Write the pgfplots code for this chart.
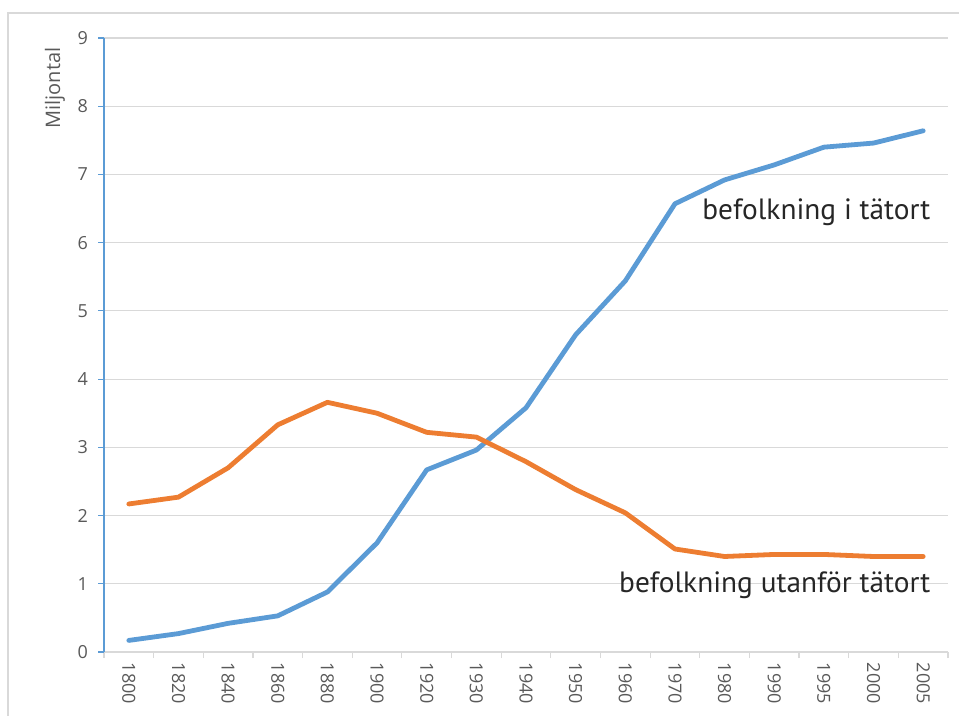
\documentclass[border=0pt]{standalone}
\usepackage{pgfplots}
\pgfplotsset{compat=1.18}
\usepackage{fontspec}
\setmainfont{Open Sans}
\newfontfamily\labelfont{PT Sans}
\definecolor{sblue}{HTML}{5B9BD5}
\definecolor{sorange}{HTML}{ED7D31}
\definecolor{gridc}{HTML}{D9D9D9}
\definecolor{tickc}{HTML}{595959}
\definecolor{txtc}{HTML}{262626}
\begin{document}
\begin{tikzpicture}
\useasboundingbox (0pt,0pt) rectangle (719.25pt,536.25pt);
\draw[gridc, line width=0.9pt] (6pt,-15pt) -- (6pt,526.5pt) -- (730pt,526.5pt);
\node[rotate=90, text=tickc, font=\fontsize{15}{17}\selectfont] at (41.25pt,470.25pt) {Miljontal};
\begin{axis}[
  at={(78pt,47.25pt)}, anchor=south west,
  scale only axis,
  width=633pt, height=460.5pt,
  xmin=-0.5, xmax=16.5, ymin=0, ymax=9,
  axis x line*=bottom, axis y line*=left,
  x axis line style={draw=gridc, line width=0.9pt, -},
  y axis line style={draw=sblue, line width=0.9pt, -},
  xtick={0,...,16},
  xticklabels={1800,1820,1840,1860,1880,1900,1920,1930,1940,1950,1960,1970,1980,1990,1995,2000,2005},
  major x tick style={draw=none},
  minor xtick={-0.5,0.5,...,16.5},
  minor x tick style={draw=gridc, line width=0.9pt},
  minor tick length=4.5pt,
  ytick={0,...,9},
  y tick style={draw=sblue, line width=0.9pt},
  major tick length=4.5pt,
  tick align=outside,
  ymajorgrids, major grid style={draw=gridc, line width=0.9pt},
  xticklabel style={rotate=-90, anchor=west, text=tickc, font=\fontsize{13.5}{15}\selectfont},
  yticklabel style={text=tickc, font=\fontsize{13.5}{15}\selectfont, xshift=-4pt},
  /pgf/number format/assume math mode=true,
  clip=false,
]
\addplot[sblue, line width=3.6pt, line join=round, line cap=round] coordinates {
(0,0.17) (1,0.27) (2,0.42) (3,0.53) (4,0.88) (5,1.60) (6,2.67) (7,2.96) (8,3.58) (9,4.65) (10,5.44) (11,6.57) (12,6.92) (13,7.14) (14,7.40) (15,7.46) (16,7.64)};
\addplot[sorange, line width=3.6pt, line join=round, line cap=round] coordinates {
(0,2.17) (1,2.27) (2,2.70) (3,3.33) (4,3.66) (5,3.50) (6,3.22) (7,3.15) (8,2.79) (9,2.38) (10,2.04) (11,1.51) (12,1.40) (13,1.43) (14,1.43) (15,1.40) (16,1.40)};
\node[anchor=east, text=txtc, font=\labelfont\fontsize{22}{25}\selectfont, inner sep=0pt] at (axis cs:16.15,6.44) {befolkning i tätort};
\node[anchor=east, text=txtc, font=\labelfont\fontsize{22}{25}\selectfont, inner sep=0pt] at (axis cs:16.15,0.98) {befolkning utanför tätort};
\end{axis}
\end{tikzpicture}
\end{document}
